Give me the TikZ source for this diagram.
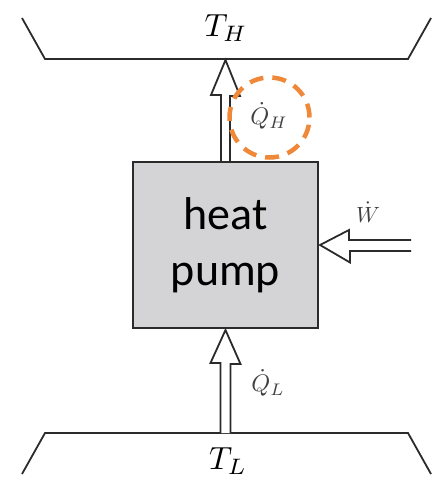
\documentclass[tikz,border=0pt]{standalone}
\usepackage{fontspec}
\newfontfamily\boxfont{Carlito}
\usetikzlibrary{calc}
\definecolor{ink}{HTML}{2B2B2B}
\definecolor{boxfill}{HTML}{D4D4D6}
\definecolor{ring}{HTML}{F0883A}

\begin{document}
\begin{tikzpicture}[x=1pt,y=-1pt,
  wall/.style={line width=1.8pt,ink,line join=miter},
  hollow/.style={line width=1.8pt,ink,fill=white,line join=miter},
  pumpbox/.style={draw=ink,fill=boxfill,line width=2pt,minimum width=185pt,minimum height=166pt,
    align=center,font=\boxfont\fontsize{46}{56}\selectfont},
  temp/.style={inner sep=0pt,scale=3.2},
  flowlbl/.style={text=ink!90,inner sep=0pt,scale=2.4}]
  \useasboundingbox (0,0) rectangle (441,486);

  % reservoirs
  \coordinate (hot) at (225.5,59);
  \coordinate (cold) at (225.5,433);
  \draw[wall] (22,18) -- (45,59) -- (408,59) -- (431,18);
  \draw[wall] (22,474) -- (45,433) -- (408,433) -- (431,474);
  \node[temp] (th) at (226,28) {$T_H$};
  \node[temp] (tl) at (228,461) {$T_L$};

  % heat pump
  \node[pumpbox] (pump) at (225.5,245) {heat\\pump};

  % heat in / heat out / work
  \draw[hollow] ($(pump.north)+(-4.5,0)$) -- ++(0,-66) -- ++(-10,0) -- ($(hot)+(0,1)$)
    -- ++(14.5,36) -- ++(-10,0) -- ($(pump.north)+(4.5,0)$);
  \draw[hollow] ($(cold)+(-5,0)$) -- ++(0,-70) -- ++(-10,0) -- ($(pump.south)+(0,1)$)
    -- ++(15,34) -- ++(-10,0) -- ($(cold)+(5,0)$);
  \coordinate (win) at (411,245.5);
  \draw[hollow] ($(win)+(0,-5.5)$) -- ++(-62,0) -- ++(0,-10) -- ($(pump.east)+(1,0)$)
    -- ++(30,17.5) -- ++(0,-11.5) -- ($(win)+(0,5.5)$);

  % labels
  \node[flowlbl] (qh) at (269,116) {$\dot{Q}_H$};
  \node[circle,draw=ring,line width=4.5pt,dash pattern=on 14pt off 9pt,
    minimum size=80pt] (ring) at (269.5,117.5) {};
  \node[flowlbl] (ql) at (268,383) {$\dot{Q}_L$};
  \node[flowlbl,scale=0.92] (w) at (368,212) {$\dot{W}$};
\end{tikzpicture}
\end{document}
